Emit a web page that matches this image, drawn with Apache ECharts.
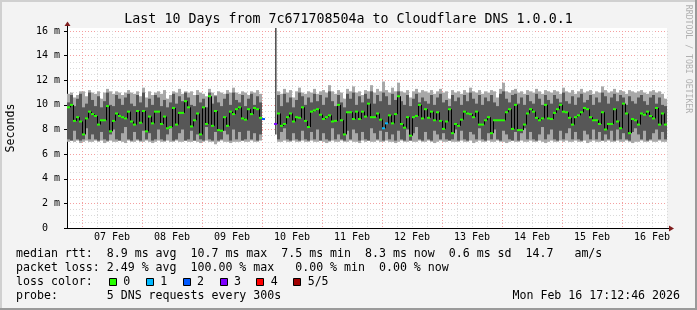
<!DOCTYPE html>
<html><head><meta charset="utf-8">
<script src="https://cdn.jsdelivr.net/npm/echarts@6/dist/echarts.min.js"></script>
<style>html,body{margin:0;padding:0;background:#f3f3f3}#c{width:697px;height:310px}</style>
</head><body><div id="c"></div>
<script>
// ---------------- data ----------------
const dayLabels = ['07 Feb','08 Feb','09 Feb','10 Feb','11 Feb','12 Feb','13 Feb','14 Feb','15 Feb','16 Feb'];
// median rtt per 72-minute column (ms), null = no data
const medians = [
 9.8,10.0,8.7,9.0,8.65,7.6,8.9,9.45,9.25,9.1,
 8.4,8.75,8.75,9.9,7.85,8.7,9.3,9.1,9.0,8.9,
 9.45,8.65,8.4,9.5,8.55,9.5,7.85,9.05,8.5,9.45,
 9.45,8.45,9.05,8.1,8.2,9.75,8.4,9.35,9.35,10.3,
 9.8,8.25,8.75,9.3,7.6,9.8,8.45,10.7,8.3,9.5,
 7.95,7.9,9.0,8.3,9.45,9.25,9.65,9.8,8.9,8.8,
 9.65,9.25,9.75,9.65,8.95,8.85,null,null,null,8.45,
 9.3,8.3,8.45,9.0,9.3,8.65,9.0,8.95,9.8,8.7,
 8.2,9.45,9.55,9.65,9.2,8.85,9.0,9.15,8.65,8.7,
 10.0,8.75,7.6,9.4,9.4,8.85,9.45,8.85,9.45,9.05,
 10.1,9.0,9.0,9.3,8.8,8.1,8.5,9.15,8.5,9.25,
 10.7,8.45,8.15,9.0,7.5,9.0,9.1,10.0,8.9,9.65,
 8.95,9.45,8.75,9.4,8.7,8.05,8.65,9.65,7.7,8.45,
 8.3,8.8,9.45,9.3,9.25,9.0,9.45,8.4,8.4,8.75,
 9.0,7.7,8.75,8.75,8.75,8.75,9.4,9.65,8.05,10.0,
 7.95,7.95,8.4,9.3,9.65,9.45,8.95,8.75,8.9,10.0,
 8.9,8.85,9.35,9.65,10.0,9.45,9.4,8.95,8.4,9.0,
 9.15,9.4,9.75,9.65,9.0,8.75,8.75,8.45,9.4,8.0,
 8.45,8.45,9.65,8.65,8.1,10.1,9.3,7.7,8.85,8.75,
 8.4,9.3,9.2,9.45,9.1,8.9,9.75,8.4,9.3,8.4
];
// smoke: lowest ping (p1), 2nd (p2), 4th (p4), highest (p5)
const pingMax = [
 10.9,11.0,10.6,10.8,11.1,11.1,10.7,11.2,11.0,10.9,
 11.1,10.5,11.0,11.3,11.1,10.9,11.1,11.0,10.8,11.0,
 11.2,11.0,10.9,11.1,10.7,11.4,10.6,11.1,10.8,11.0,
 11.1,10.9,11.2,10.5,10.8,11.1,11.0,11.3,10.9,11.1,
 11.0,11.1,10.8,11.2,11.0,10.9,10.7,11.3,11.0,10.8,
 11.1,11.0,10.9,11.2,11.0,11.4,11.0,10.9,11.1,11.0,
 10.8,11.1,11.0,11.2,10.9,null,null,null,null,null,
 11.1,10.9,11.3,11.0,11.2,10.6,11.1,11.4,11.0,10.9,
 11.1,11.0,11.3,10.9,11.1,11.2,11.0,11.6,11.1,10.9,
 11.2,11.0,10.5,11.3,11.1,11.5,11.0,11.1,10.8,11.2,
 11.1,11.6,11.0,11.3,11.1,11.9,11.2,11.0,11.4,11.1,
 11.8,11.1,11.0,11.2,10.6,11.1,11.3,11.0,11.2,11.1,
 11.0,11.2,10.9,11.1,11.3,11.0,11.1,10.5,11.2,11.0,
 11.1,10.9,11.2,11.0,11.4,11.1,11.0,11.2,10.9,11.1,
 11.0,11.2,11.1,10.6,11.3,11.8,11.1,11.0,11.2,11.3,
 11.0,11.1,10.9,11.2,11.1,11.0,11.3,11.1,10.9,11.2,
 11.1,11.0,11.2,11.1,10.9,11.4,11.1,11.0,11.2,10.9,
 11.1,11.3,11.0,11.1,11.2,10.9,11.1,11.0,11.5,11.2,
 11.0,11.1,11.3,11.0,11.2,11.1,10.9,11.2,11.1,11.0,
 11.1,11.2,11.0,10.9,11.1,11.2,11.0,11.1,10.9,10.5
];
const pingHigh = [
 10.2,10.8,9.9,10.5,10.9,9.8,10.1,11.0,10.4,9.9,
 10.7,9.8,10.3,11.0,10.0,9.9,10.8,10.5,10.0,10.6,
 10.9,10.1,9.9,10.8,10.2,11.0,9.8,10.5,10.0,10.8,
 10.6,9.9,10.4,9.8,10.2,10.9,10.1,10.7,10.3,11.0,
 10.6,10.0,9.9,10.8,10.2,10.5,9.8,11.0,10.1,10.7,
 10.2,9.9,10.5,10.9,10.0,11.0,10.4,10.2,10.8,9.9,
 10.5,10.9,10.0,10.7,10.2,null,null,null,null,null,
 10.8,9.9,10.9,10.2,10.6,9.8,10.4,11.0,10.7,10.0,
 10.6,10.2,10.9,10.3,10.8,10.0,10.6,11.1,10.3,9.9,
 10.8,10.2,9.8,10.9,10.5,11.0,10.0,10.7,10.2,10.9,
 10.5,11.1,10.1,10.8,10.3,11.0,10.7,10.0,10.9,10.4,
 11.1,10.3,10.0,10.8,9.9,10.5,10.9,10.2,10.6,10.3,
 10.1,10.8,10.0,10.6,10.9,10.2,10.4,9.9,10.8,10.3,
 10.6,10.0,10.8,10.3,11.0,10.5,10.1,10.8,10.0,10.6,
 10.3,10.8,10.2,9.9,10.9,11.1,10.5,10.2,10.8,10.9,
 10.1,10.6,10.0,10.8,10.3,10.1,10.9,10.5,10.0,10.8,
 10.4,10.1,10.8,10.5,10.2,11.0,10.3,10.1,10.7,10.0,
 10.6,10.9,10.2,10.4,10.8,10.0,10.6,10.2,11.0,10.7,
 10.1,10.6,10.9,10.3,10.8,10.6,10.0,10.7,10.3,10.1,
 10.6,10.8,10.3,10.0,10.6,10.8,10.1,10.6,10.0,9.9
];
const pingLow = [
 7.2,7.1,7.9,7.2,7.1,7.2,8.1,7.2,7.6,7.2,
 7.1,7.8,7.2,7.1,7.6,8.0,7.2,7.1,7.7,8.2,
 7.2,7.1,7.8,7.2,7.1,7.9,7.2,7.7,7.1,7.2,
 8.0,7.2,7.1,7.6,8.1,7.1,7.2,7.7,8.0,7.1,
 7.2,7.9,7.1,7.6,7.2,7.1,8.2,7.2,7.1,7.8,
 7.1,7.2,7.9,7.6,7.1,8.0,7.2,7.8,7.1,7.2,
 7.9,7.2,7.7,7.1,7.6,null,null,null,null,null,
 7.2,7.8,8.1,7.2,7.1,7.7,7.2,7.1,7.9,7.2,
 7.1,7.8,7.2,8.0,7.1,7.7,7.2,7.1,8.1,7.2,
 7.6,7.2,7.1,7.9,7.2,8.0,7.7,7.1,7.8,7.2,
 7.1,8.1,7.7,7.2,7.9,7.1,7.8,7.2,7.6,7.1,
 7.9,7.2,7.1,8.0,7.1,7.7,8.2,7.2,7.1,7.8,
 7.2,7.1,7.9,7.6,7.2,7.7,7.2,7.1,7.2,8.0,
 7.1,7.9,7.2,7.1,7.8,7.6,7.2,8.1,7.2,7.1,
 7.7,7.2,8.0,7.2,7.1,7.9,7.6,7.2,7.1,7.8,
 7.1,7.7,8.1,7.2,7.8,7.2,7.1,7.6,8.2,7.2,
 7.6,8.0,7.2,7.1,7.9,7.2,7.7,8.1,7.2,7.8,
 7.2,7.1,7.9,7.6,7.2,8.0,7.2,7.8,7.1,7.6,
 7.2,7.9,7.1,8.0,7.2,7.7,7.2,7.1,7.8,8.1,
 7.6,7.2,7.9,7.1,7.2,7.7,8.0,7.2,7.8,7.2
];
const pingMin = [
 7.0,7.1,7.0,7.1,6.9,7.0,7.1,7.0,7.0,7.1,
 7.0,7.1,6.9,7.0,7.1,7.0,7.0,7.1,7.0,6.9,
 7.1,7.0,7.0,7.1,7.0,7.0,7.1,7.0,6.9,7.0,
 7.1,7.0,7.0,7.1,7.0,7.0,7.1,7.0,7.0,7.1,
 7.0,7.0,7.1,7.0,6.9,7.0,7.1,7.0,7.0,6.8,
 7.0,7.1,7.0,7.0,6.9,7.0,7.0,7.0,7.1,7.0,
 7.0,7.1,7.0,7.0,7.1,null,null,null,null,null,
 7.0,7.0,7.1,7.0,7.0,7.1,7.0,7.0,7.1,7.0,
 7.0,7.1,7.0,7.0,7.1,7.0,6.9,7.0,7.1,7.0,
 7.0,7.1,7.0,7.0,7.1,7.0,7.0,6.9,7.1,7.0,
 7.1,7.0,7.0,7.1,7.0,7.0,7.1,7.0,7.0,6.9,
 7.0,7.1,7.0,7.0,7.1,7.0,7.0,7.1,7.0,7.0,
 7.1,7.0,6.9,7.0,7.1,7.0,7.0,7.1,7.0,7.0,
 7.0,7.1,7.0,7.0,7.1,6.9,7.0,7.1,7.0,7.0,
 7.1,7.0,7.0,7.1,7.0,7.0,6.9,7.0,7.1,7.0,
 7.0,7.1,7.0,7.0,7.1,7.0,7.0,7.1,7.0,6.9,
 7.0,7.1,7.0,7.0,7.1,7.0,7.1,7.0,7.0,7.1,
 7.0,7.0,7.1,6.9,7.0,7.1,7.0,7.0,7.1,7.0,
 7.1,7.0,7.0,7.1,7.0,7.0,7.1,7.0,6.9,7.0,
 7.0,7.1,7.0,7.0,7.1,7.0,7.0,7.1,7.0,7.0
];
// columns with packet loss (index into lossColors)
const lossCols = [65, 69, 105, 106];
const lossVals = [2, 3, 1, 1];
// outlier spike (column, from, to in ms)
const spikeCols = [69];
const spikeFrom = [7.6];
const spikeTo = [16.24];
const lossColors = ['#26ff00','#00b8ff','#0059ff','#7e00ff','#ff0000','#a00000'];
const lossLabels = ['0','1','2','3','4','5/5'];
const yMax = 16, yStep = 2;
const statRows = [
 'median rtt:  8.9 ms avg  10.7 ms max  7.5 ms min  8.3 ms now  0.6 ms sd  14.7   am/s',
 'packet loss: 2.49 % avg  100.00 % max   0.00 % min  0.00 % now',
 'loss color:',
 'probe:       5 DNS requests every 300s'
];
const stamp = 'Mon Feb 16 17:12:46 2026';
const titleText = 'Last 10 Days from 7c671708504a to Cloudflare DNS 1.0.0.1';

// ---------------- build ----------------
const NCOL = medians.length;
const slots = []; for (let i = 0; i <= 40; i++) slots.push(String(i * 6));
const lossOf = k => { const j = lossCols.indexOf(k); return j < 0 ? 0 : lossVals[j]; };
const smokeData = [], medData = [], connData = [], spikeData = [];
for (let k = 0; k < NCOL; k++) {
  if (pingMax[k] != null) smokeData.push([k, pingMin[k], pingLow[k], pingHigh[k], pingMax[k]]);
  if (medians[k] != null) medData.push([k, medians[k], lossOf(k)]);
  if (k > 0 && medians[k] != null && medians[k-1] != null) connData.push([k, medians[k-1], medians[k]]);
}
spikeCols.forEach((c, i) => spikeData.push([c, spikeFrom[i], spikeTo[i]]));

const MONO = '"DejaVu Sans Mono", monospace';
const chart = echarts.init(document.getElementById('c'), null, {renderer: 'canvas'});
const graphics = [
  {type:'rect', z:-10, shape:{x:67, y:28, width:600, height:200}, style:{fill:'#ffffff'}},
  {type:'rect', shape:{x:0, y:0, width:697, height:2}, style:{fill:'#d0d0d0'}},
  {type:'rect', shape:{x:0, y:0, width:2, height:310}, style:{fill:'#d0d0d0'}},
  {type:'rect', shape:{x:0, y:308, width:697, height:2}, style:{fill:'#9a9a9a'}},
  {type:'rect', shape:{x:695, y:0, width:2, height:310}, style:{fill:'#9a9a9a'}},
  {type:'line', shape:{x1:67.5, y1:31, x2:67.5, y2:25}, style:{stroke:'#000', lineWidth:1}},
  {type:'line', shape:{x1:667, y1:228.5, x2:670, y2:228.5}, style:{stroke:'#000', lineWidth:1}},
  {type:'polygon', shape:{points:[[67.5,21.5],[64.5,26],[70.5,26]]}, style:{fill:'#7f1d1d'}},
  {type:'polygon', shape:{points:[[674,228.5],[669,225.5],[669,231.5]]}, style:{fill:'#7f1d1d'}},
  {type:'text', x:348.5, y:19.5, style:{text:titleText, font:'13.3px '+MONO, fill:'#000', textAlign:'center', textVerticalAlign:'middle', align:'center', verticalAlign:'middle'}},
  {type:'text', x:11, y:128, rotation:Math.PI/2, style:{text:'Seconds', font:'11.6px '+MONO, fill:'#000', textAlign:'center', textVerticalAlign:'middle', align:'center', verticalAlign:'middle'}},
  {type:'text', x:688, y:59, rotation:-Math.PI/2, style:{text:'RRDTOOL / TOBI OETIKER', font:'8.2px '+MONO, fill:'#b0b0b0', textAlign:'center', textVerticalAlign:'middle', align:'center', verticalAlign:'middle'}},
  {type:'text', x:680, y:296, style:{text:stamp, font:'11.6px '+MONO, fill:'#000', textAlign:'right', textVerticalAlign:'middle', align:'right', verticalAlign:'middle'}}
];
const rowY = [254.3, 268.3, 282.3, 296];
statRows.forEach((t, i) => graphics.push({type:'text', x:16, y:rowY[i], style:{text:t, font:'11.6px '+MONO, fill:'#000', textAlign:'left', textVerticalAlign:'middle', align:'left', verticalAlign:'middle'}}));
lossLabels.forEach((lab, i) => {
  const bx = 109 + 36.87 * i;
  graphics.push({type:'rect', shape:{x:Math.round(bx)+0.5, y:278.5, width:7, height:7}, style:{fill:lossColors[i], stroke:'#000', lineWidth:1}});
  graphics.push({type:'text', x:bx+14.3, y:282.3, style:{text:lab, font:'11.6px '+MONO, fill:'#000', textAlign:'left', textVerticalAlign:'middle', align:'left', verticalAlign:'middle'}});
});

const gridGrey = '#d9d9d9', gridRed = '#f4a0a0';
const option = {
  backgroundColor: '#f3f3f3',
  animation: false,
  grid: {left:67, top:31, width:600, height:197, containLabel:false},
  xAxis: [
    {type:'value', min:0, max:NCOL, show:false, position:'top'},
    {type:'category', data:slots, boundaryGap:false, position:'bottom',
     axisLine:{show:true, lineStyle:{color:'#000', width:1}}, axisTick:{show:false}, axisLabel:{show:false},
     splitLine:{show:true, interval:(i)=> i % 4 !== 1, lineStyle:{color:gridGrey, type:[1,2], width:1}}},
    {type:'category', data:slots, boundaryGap:false, position:'bottom',
     axisLine:{show:false}, axisTick:{show:false},
     axisLabel:{show:true, interval:(i)=> i % 4 === 3, margin:4, fontFamily:'DejaVu Sans Mono', fontSize:10, color:'#000',
       formatter:(v, i)=> { const d = (i - 3) / 4; return dayLabels[d] || ''; }},
     splitLine:{show:true, interval:(i)=> i % 4 === 1, lineStyle:{color:gridRed, type:[1,2], width:1}}}
  ],
  yAxis: [{type:'value', min:0, max:yMax, interval:yStep,
    axisLine:{show:true, lineStyle:{color:'#000', width:1}},
    axisTick:{show:true, length:3, lineStyle:{color:'#000'}},
    minorTick:{show:false, splitNumber:4},
    minorSplitLine:{show:true, lineStyle:{color:gridGrey, type:[1,2], width:1}},
    splitLine:{show:true, lineStyle:{color:gridRed, type:[1,2], width:1}},
    axisLabel:{margin:7, fontFamily:'DejaVu Sans Mono', fontSize:10, color:'#000',
      formatter:(v)=> v === 0 ? '0  ' : (v + ' m')}}],
  graphic: {elements: graphics},
  series: [
    {type:'custom', xAxisIndex:0, yAxisIndex:0, data:smokeData, z:3, clip:false,
     renderItem:(p, api)=>{
       const k = api.value(0);
       const a = api.coord([k, api.value(4)]), b = api.coord([k+1, api.value(1)]);
       const c = api.coord([k, api.value(3)]), d = api.coord([k+1, api.value(2)]);
       return {type:'group', children:[
         {type:'rect', shape:{x:a[0], y:a[1], width:b[0]-a[0], height:b[1]-a[1]}, style:{fill:'#a8a8a8'}},
         {type:'rect', shape:{x:c[0], y:c[1], width:d[0]-c[0], height:d[1]-c[1]}, style:{fill:'#575757'}}
       ]};
     }},
    {type:'custom', xAxisIndex:0, yAxisIndex:0, data:spikeData, z:4, clip:false,
     renderItem:(p, api)=>{
       const k = api.value(0);
       const a = api.coord([k+1, api.value(2)]), b = api.coord([k+1, api.value(1)]);
       return {type:'rect', shape:{x:a[0]-2, y:a[1], width:1.6, height:b[1]-a[1]}, style:{fill:'#555555'}};
     }},
    {type:'custom', xAxisIndex:0, yAxisIndex:0, data:connData, z:5,
     renderItem:(p, api)=>{
       const k = api.value(0);
       const a = api.coord([k, api.value(1)]), b = api.coord([k, api.value(2)]);
       return {type:'line', shape:{x1:a[0]+0.5, y1:a[1], x2:b[0]+0.5, y2:b[1]}, style:{stroke:'#000', lineWidth:1}};
     }},
    {type:'custom', xAxisIndex:0, yAxisIndex:0, data:medData, z:6,
     renderItem:(p, api)=>{
       const k = api.value(0);
       const a = api.coord([k, api.value(1)]), b = api.coord([k+1, api.value(1)]);
       return {type:'rect', shape:{x:a[0], y:a[1]-1, width:b[0]-a[0], height:2}, style:{fill:lossColors[api.value(2)]}};
     }}
  ]
};
chart.setOption(option);
</script>
</body></html>
